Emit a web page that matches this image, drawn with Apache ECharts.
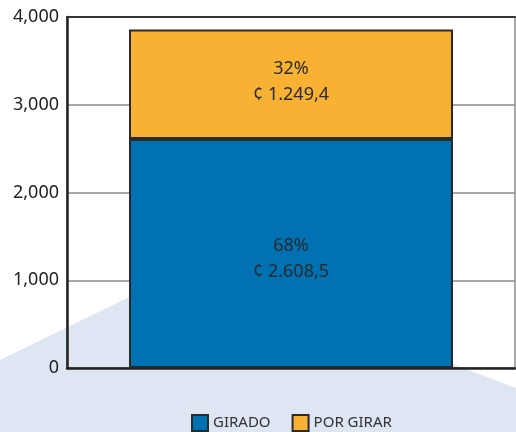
<!DOCTYPE html>
<html>
<head>
<meta charset="utf-8">
<script src="https://cdn.jsdelivr.net/npm/echarts@6/dist/echarts.min.js"></script>
<style>
  html, body { margin: 0; padding: 0; background: #fff; }
  #chartmain { width: 516px; height: 432px; }
</style>
</head>
<body>
<div id="chartmain"></div>
<script>
  // datos
  var categorias = [''];
  var nombres = ['GIRADO', 'POR GIRAR'];
  var girado = [2608.5];
  var porGirar = [1249.4];
  var pctGirado = ['68%'];
  var pctPorGirar = ['32%'];
  var ticksY = [0, 1000, 2000, 3000, 4000];

  // 2608.5 -> "2.608,5"
  function colones(v) {
    var partes = v.toFixed(1).split('.');
    var ent = partes[0].replace(/\B(?=(\d{3})+(?!\d))/g, '.');
    return '¢ ' + ent + ',' + partes[1];
  }

  var myChart = echarts.init(document.getElementById('chartmain'));

  var option = {
    animation: false,
    textStyle: { fontFamily: 'Noto Sans' },
    graphic: [{
      type: 'polygon',
      z: -10,
      shape: { points: [[0, 360], [193, 266], [516, 388], [516, 432], [0, 432]] },
      style: { fill: '#dde6f2' }
    }],
    grid: {
      left: 67, right: 1, top: 17, bottom: 64,
      show: true, borderColor: '#8a8a8a', borderWidth: 1.5
    },
    legend: {
      top: 409,
      left: 186,
      icon: 'rect',
      itemWidth: 16,
      itemHeight: 16,
      itemGap: 21,
      data: nombres,
      textStyle: { color: '#333', fontSize: 15, fontFamily: 'Noto Sans' }
    },
    xAxis: [{
      type: 'category',
      data: categorias,
      axisLine: { lineStyle: { color: '#222', width: 2.5 } },
      axisTick: { show: false },
      axisLabel: { show: false }
    }, {
      type: 'category',
      position: 'top',
      data: categorias,
      axisLine: { lineStyle: { color: '#333', width: 2 } },
      axisTick: { show: false },
      axisLabel: { show: false }
    }],
    yAxis: {
      type: 'value',
      min: ticksY[0],
      max: ticksY[ticksY.length - 1],
      interval: 1000,
      axisLine: { show: true, lineStyle: { color: '#222', width: 2.5 } },
      axisTick: { show: false },
      splitLine: { lineStyle: { color: '#8a8a8a', width: 1.5 } },
      axisLabel: {
        color: '#222',
        fontSize: 18,
        margin: 8,
        formatter: function (v) { return v.toLocaleString('en-US'); }
      }
    },
    series: [{
      name: nombres[0],
      type: 'bar',
      stack: 'total',
      barWidth: 324,
      data: girado,
      itemStyle: { color: '#0071b2', borderColor: '#2a2a2a', borderWidth: 2 },
      label: {
        show: true,
        position: 'inside',
        offset: [0, 5],
        color: '#2a2a2a',
        fontSize: 18,
        lineHeight: 26,
        formatter: function (p) { return pctGirado[p.dataIndex] + '\n' + colones(p.value); }
      }
    }, {
      name: nombres[1],
      type: 'bar',
      stack: 'total',
      barWidth: 324,
      data: porGirar,
      itemStyle: { color: '#f9b134', borderColor: '#2a2a2a', borderWidth: 2 },
      label: {
        show: true,
        position: 'inside',
        offset: [0, -2],
        color: '#2a2a2a',
        fontSize: 18,
        lineHeight: 26,
        formatter: function (p) { return pctPorGirar[p.dataIndex] + '\n' + colones(p.value); }
      }
    }]
  };

  myChart.setOption(option);
</script>
</body>
</html>
